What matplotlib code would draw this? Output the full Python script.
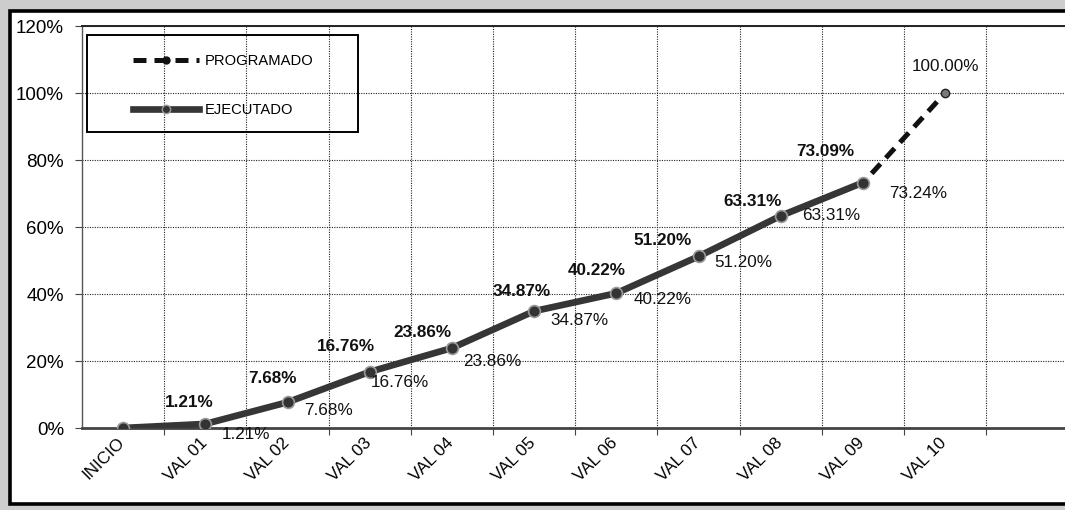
import matplotlib
matplotlib.use("Agg")
import matplotlib.pyplot as plt
from matplotlib.lines import Line2D
from matplotlib.patches import Rectangle
from matplotlib.ticker import PercentFormatter, FixedLocator
from matplotlib.transforms import ScaledTranslation

plt.rcParams['font.family'] = ['Liberation Sans', 'DejaVu Sans']

# ---- data ----
categories = ["INICIO", "VAL 01", "VAL 02", "VAL 03", "VAL 04", "VAL 05",
              "VAL 06", "VAL 07", "VAL 08", "VAL 09", "VAL 10"]
programado = [0.00, 1.21, 7.68, 16.76, 23.86, 34.87, 40.22, 51.20, 63.31, 73.09, 100.00]
ejecutado = [0.00, 1.21, 7.68, 16.76, 23.86, 34.87, 40.22, 51.20, 63.31, 73.24]
y_ticks = [0, 20, 40, 60, 80, 100, 120]

# label offsets (pixels, text centre relative to point) -- styling only
prog_off = [None, (-16, 22), (-15, 24), (-24, 25), (-29, 16), (-12, 20),
            (-20, 23), (-36, 16), (-28, 14), (-38, 32), (0, 27)]
ejec_off = [None, (41, -10), (41, -8), (30, -11), (40, -13), (45, -9),
            (46, -6), (45, -6), (50, 0), (55, -11)]

W, H = 1065, 510
fig = plt.figure(figsize=(W / 100, H / 100 + 0.001), dpi=100)
fig.patch.set_facecolor('#cdcdcd')

# outer frame: white fill + open black border (no right side)
fill = Rectangle((9 / W, (H - 505) / H), 1.0, (505 - 10) / H,
                 transform=fig.transFigure, facecolor='white',
                 edgecolor='none', zorder=-2)
fig.patches.append(fill)
border = Line2D([1.0, 10 / W, 10 / W, 1.0],
                [(H - 11) / H, (H - 11) / H, (H - 504) / H, (H - 504) / H],
                transform=fig.transFigure, color='black', linewidth=2.6,
                solid_joinstyle='miter', solid_capstyle='butt', zorder=-1)
fig.lines.append(border)

ax_left, ax_bottom = 82 / W, (H - 428) / H
ax_w, ax_h = (12 * 82.2) / W, (428 - 26) / H
ax = fig.add_axes([ax_left, ax_bottom, ax_w, ax_h])
ax.set_facecolor('white')

x = list(range(len(categories)))
xp = x[:len(programado)]
xe = x[:len(ejecutado)]

ax.plot(xp, programado, color='#111111', lw=3.6, linestyle=(0, (2.6, 1.6)),
        marker='o', markersize=6, markerfacecolor='#7a7a7a',
        markeredgecolor='#222222', markevery=[len(programado) - 1], zorder=3)
ax.plot(xe, ejecutado, color='#363636', lw=4.8, marker='o', markersize=8.5,
        markerfacecolor='#333333', markeredgecolor='#9a9a9a',
        markeredgewidth=1.2, zorder=4, solid_capstyle='round')

for i, v in enumerate(programado):
    if prog_off[i] is None:
        continue
    ax.annotate(f"{v:.2f}%", (xp[i], v), xytext=prog_off[i],
                textcoords='offset pixels', ha='center', va='center',
                fontsize=12.3, color='#111111',
                fontweight='normal' if i == len(programado) - 1 else 'bold',
                zorder=6)
for i, v in enumerate(ejecutado):
    if ejec_off[i] is None:
        continue
    ax.annotate(f"{v:.2f}%", (xe[i], v), xytext=ejec_off[i],
                textcoords='offset pixels', ha='center', va='center',
                fontsize=12.3, color='#111111', zorder=6)

ax.set_xlim(-0.5, 11.5)
ax.set_ylim(0, 120)
ax.set_yticks(y_ticks)
ax.yaxis.set_major_formatter(PercentFormatter(decimals=0))
ax.tick_params(axis='y', labelsize=13.5, length=5, width=0.8, pad=8,
               color='#444444')

ax.set_xticks(x)
ax.set_xticklabels(categories, rotation=45, ha='right', va='top',
                   rotation_mode='anchor', fontsize=12.3)
ax.tick_params(axis='x', which='major', length=0, pad=5)
shift = ScaledTranslation(-6 / 100, 0, fig.dpi_scale_trans)
for lab in ax.get_xticklabels():
    lab.set_transform(lab.get_transform() + shift)
ax.xaxis.set_minor_locator(FixedLocator([k - 0.5 for k in range(1, 13)]))
ax.tick_params(axis='x', which='minor', length=5, width=0.8, color='#444444')

ax.grid(axis='y', which='major', color='#222222', linestyle=(0, (1, 1.2)),
        linewidth=0.8)
ax.grid(axis='x', which='minor', color='#222222', linestyle=(0, (1, 1.2)),
        linewidth=0.8)
ax.set_axisbelow(True)

ax.spines['bottom'].set_color('#444444')
ax.spines['bottom'].set_linewidth(2.0)
ax.spines['left'].set_color('#555555')
ax.spines['left'].set_linewidth(1.0)
ax.spines['top'].set_color('#222222')
ax.spines['top'].set_linewidth(1.4)
ax.spines['right'].set_visible(False)

# legend
handles = [
    Line2D([], [], color='#111111', lw=3.6, linestyle=(0, (2.6, 1.6)),
           marker='o', markersize=5, markerfacecolor='#111111',
           markeredgecolor='#111111'),
    Line2D([], [], color='#363636', lw=4.8, marker='o', markersize=6,
           markerfacecolor='#333333', markeredgecolor='#9a9a9a'),
]
leg = fig.legend(handles, ["PROGRAMADO", "EJECUTADO"], loc='upper left',
                 bbox_to_anchor=(133 / W, (H - 54) / H), frameon=False,
                 borderpad=0, borderaxespad=0, fontsize=10.6,
                 handlelength=4.5, handletextpad=0.4, labelspacing=2.4,
                 numpoints=1)
box = Rectangle((87 / W, (H - 132) / H), (358 - 87) / W, (132 - 35) / H,
                transform=fig.transFigure, fill=False, edgecolor='black',
                linewidth=1.4, zorder=5)
fig.patches.append(box)

fig.savefig("out.png", dpi=100, facecolor=fig.get_facecolor())
